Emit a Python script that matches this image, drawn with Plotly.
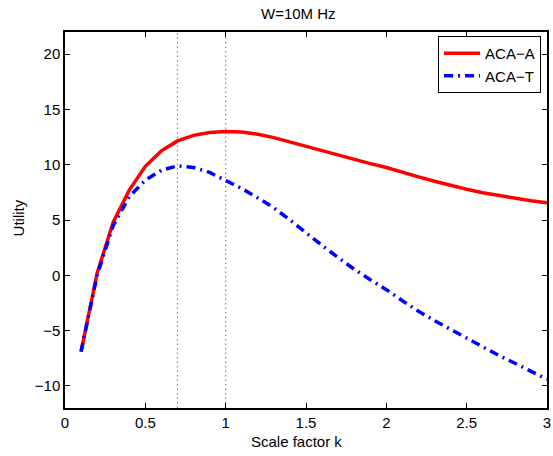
import plotly.graph_objects as go

k = [0.1, 0.2, 0.3, 0.4, 0.5, 0.6, 0.7, 0.8, 0.9, 1.0,
     1.1, 1.2, 1.3, 1.4, 1.5, 1.6, 1.7, 1.8, 1.9, 2.0,
     2.1, 2.2, 2.3, 2.4, 2.5, 2.6, 2.7, 2.8, 2.9, 3.0]
aca_a = [-6.9, 0.2, 4.8, 7.7, 9.85, 11.25, 12.15, 12.65, 12.92, 13.0,
         12.95, 12.75, 12.45, 12.05, 11.65, 11.25, 10.85, 10.45, 10.1, 9.75,
         9.3, 8.9, 8.5, 8.12, 7.78, 7.46, 7.2, 6.97, 6.75, 6.55]
aca_t = [-6.9, 0.0, 4.5, 7.1, 8.6, 9.5, 9.9, 9.75, 9.3, 8.6,
         7.85, 7.0, 6.1, 5.0, 3.8, 2.7, 1.6, 0.55, -0.4, -1.3,
         -2.3, -3.25, -4.1, -4.9, -5.7, -6.5, -7.25, -7.95, -8.65, -9.4]
vlines = [0.7, 1.0]
xticks = [0, 0.5, 1, 1.5, 2, 2.5, 3]
yticks = [-10, -5, 0, 5, 10, 15, 20]

FONT = "Liberation Sans, Arial, Helvetica, sans-serif"
W, H = 553, 456
ML, MR, MT, MB = 65, 2, 32, 48
PW, PH = W - ML - MR, H - MT - MB


def px(x):
    return (x - ML) / PW


def py(y):
    return (H - MB - y) / PH


fig = go.Figure()
for v in vlines:
    fig.add_trace(go.Scatter(x=[v, v], y=[-12, 22], mode="lines",
                             line=dict(color="#888888", width=1.2, dash="1.5px,3px"),
                             showlegend=False, hoverinfo="skip"))
fig.add_trace(go.Scatter(x=k, y=aca_a, mode="lines", name="ACA\u2212A",
                         line=dict(color="#ff0000", width=3.5)))
fig.add_trace(go.Scatter(x=k, y=aca_t, mode="lines", name="ACA\u2212T",
                         line=dict(color="#0000ff", width=3.5, dash="9px,5px,2px,5px")))

fig.update_layout(
    width=W, height=H,
    margin=dict(l=ML, r=MR, t=MT, b=MB),
    paper_bgcolor="white", plot_bgcolor="white",
    font=dict(family=FONT, size=14, color="black"),
    showlegend=True,
    legend=dict(x=px(545), y=py(36), xanchor="right", yanchor="top",
                bordercolor="black", borderwidth=1, bgcolor="white",
                font=dict(size=15), tracegroupgap=0, itemwidth=36),
    annotations=[
        dict(text="W=10M Hz", x=px(300), y=py(13), xref="paper", yref="paper",
             xanchor="center", yanchor="middle", showarrow=False, font=dict(size=15)),
        dict(text="Scale factor k", x=px(298), y=py(441), xref="paper", yref="paper",
             xanchor="center", yanchor="middle", showarrow=False, font=dict(size=15)),
        dict(text="Utility", x=px(18), y=py(218), textangle=-90, xref="paper", yref="paper",
             xanchor="center", yanchor="middle", showarrow=False, font=dict(size=15)),
    ],
)

fig.update_xaxes(range=[0, 3], tickvals=xticks, ticktext=[str(t) for t in xticks],
                 ticks="inside", ticklen=5, tickcolor="black", showline=True,
                 linecolor="black", linewidth=1.5, mirror="ticks", showgrid=False,
                 zeroline=False, tickfont=dict(size=15), ticklabeloverflow="allow")
fig.update_yaxes(range=[-12, 22], tickvals=yticks,
                 ticktext=[("\u2212" + str(-t)) if t < 0 else str(t) for t in yticks],
                 ticks="inside", ticklen=5, tickcolor="black", showline=True,
                 linecolor="black", linewidth=1.5, mirror="ticks", showgrid=False,
                 zeroline=False, tickfont=dict(size=15))

fig.write_html("out.html", config={"displayModeBar": False},
               post_script="document.body.style.margin='0';document.body.style.overflow='hidden';")
